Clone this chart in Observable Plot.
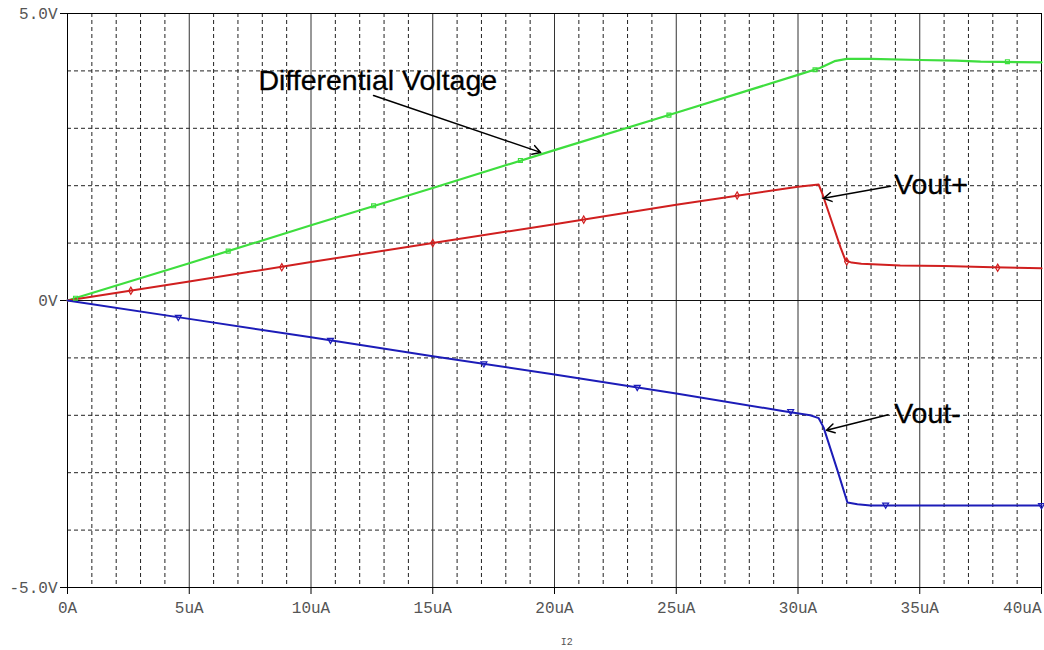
<!DOCTYPE html>
<html>
<head>
<meta charset="utf-8">
<script src="https://cdn.jsdelivr.net/npm/d3@7"></script>
<script src="https://cdn.jsdelivr.net/npm/@observablehq/plot@0.6"></script>
<style>
  html, body { margin: 0; padding: 0; background: #fff; }
  #chart svg { display: block; }
</style>
</head>
<body>
<div id="chart"></div>
<script>
// ---- Data (x in uA, y in V) ----
const diffX = [0, 5, 10, 15, 20, 25, 30, 30.9, 31.5, 32, 33, 35, 36.5, 37.5, 40];
const diffY = [0, 0.65, 1.31, 1.96, 2.62, 3.27, 3.93, 4.05, 4.17, 4.21, 4.21, 4.19, 4.18, 4.16, 4.15];

const voutPX = [0, 5, 10, 15, 20, 25, 30, 30.85, 31.0, 31.75, 31.95, 32.2, 32.6, 34.2, 36, 38, 40];
const voutPY = [0, 0.33, 0.67, 1.0, 1.33, 1.67, 1.98, 2.02, 1.86, 0.92, 0.7, 0.66, 0.64, 0.61, 0.6, 0.58, 0.56];

const voutMX = [0, 5, 10, 15, 20, 25, 29.3, 30.5, 30.85, 31.05, 31.62, 32.03, 32.44, 32.98, 36, 40];
const voutMY = [0, -0.32, -0.64, -0.97, -1.29, -1.62, -1.92, -2.0, -2.05, -2.21, -2.96, -3.52, -3.55, -3.57, -3.57, -3.57];

// markers along the traces
const diffMarkX = [0.33, 6.6, 12.57, 18.6, 24.7, 30.7, 38.6];
const diffMarkY = [0.04, 0.86, 1.65, 2.44, 3.23, 4.02, 4.16];
const voutPMarkX = [2.6, 8.8, 15.0, 21.2, 27.5, 32.0, 38.2];
const voutPMarkY = [0.17, 0.58, 1.0, 1.41, 1.83, 0.68, 0.57];
const voutMMarkX = [4.55, 10.8, 17.1, 23.4, 29.7, 33.6, 40];
const voutMMarkY = [-0.29, -0.69, -1.1, -1.51, -1.93, -3.56, -3.57];

// axis ticks
const xTicks = [0, 5, 10, 15, 20, 25, 30, 35, 40];
const xTickLabels = ["0A", "5uA", "10uA", "15uA", "20uA", "25uA", "30uA", "35uA", "40uA"];
const yTicks = [-5, 0, 5];
const yTickLabels = ["-5.0V", "0V", "5.0V"];
const xMinorGrid = d3.range(1, 40).filter(d => d % 5 !== 0);
const yMinorGrid = [-4, -3, -2, -1, 1, 2, 3, 4];
const xMajorGrid = [5, 10, 15, 20, 25, 30, 35];

// annotations
const labels = [
  {text: "Differential Voltage", x: 7.84, y: 3.83},
  {text: "Vout+", x: 33.95, y: 2.02},
  {text: "Vout-", x: 33.95, y: -1.97}
];
const arrows = [
  {x1: 12.57, y1: 3.57, x2: 19.43, y2: 2.58},
  {x1: 33.8, y1: 1.99, x2: 31.05, y2: 1.78},
  {x1: 33.7, y1: -1.99, x2: 31.17, y2: -2.26}
];

const toRows = (xs, ys) => xs.map((x, i) => ({x, y: ys[i]}));
const diff = toRows(diffX, diffY);
const voutP = toRows(voutPX, voutPY);
const voutM = toRows(voutMX, voutMY);
const xLab = xTicks.map((x, i) => ({x, text: xTickLabels[i]}));

const GREEN = "#3ede3e", RED = "#d01f1f", BLUE = "#1c1cb8";
const mono = "'Liberation Mono', 'DejaVu Sans Mono', monospace";
const sans = "'Liberation Sans', Arial, sans-serif";

const chart = Plot.plot({
  width: 1044,
  height: 650,
  marginLeft: 67,
  marginRight: 3,
  marginTop: 13,
  marginBottom: 63,
  x: {domain: [0, 40], axis: null},
  y: {domain: [-5, 5], axis: null},
  style: {background: "#fff"},
  marks: [
    // grid
    Plot.ruleX(xMinorGrid, {x: d => d, stroke: "#222", strokeDasharray: "4,3", strokeWidth: 1}),
    Plot.ruleY(yMinorGrid, {y: d => d, stroke: "#222", strokeDasharray: "4,3", strokeWidth: 1}),
    Plot.ruleX(xMajorGrid, {x: d => d, stroke: "#333", strokeWidth: 1}),
    Plot.ruleY([0], {stroke: "#111", strokeWidth: 1}),
    Plot.frame({stroke: "#000", strokeWidth: 1}),
    // axes
    Plot.axisX(xTicks, {
      anchor: "bottom", tickSize: 7, label: null, tickFormat: () => "", stroke: "#000"
    }),
    Plot.text(xLab.filter(d => d.x < 40), {
      x: "x", y: -5, dy: 20, text: "text", textAnchor: "middle",
      fontFamily: mono, fontSize: 16, fill: "#555"
    }),
    Plot.text(xLab.filter(d => d.x === 40), {
      x: "x", y: -5, dy: 20, text: "text", textAnchor: "end",
      fontFamily: mono, fontSize: 16, fill: "#555"
    }),
    Plot.axisY(yTicks, {
      anchor: "left", tickSize: 7, tickPadding: 3, label: null,
      tickFormat: (d) => yTickLabels[yTicks.indexOf(d)],
      fontFamily: mono, fontSize: 16, fill: "#555", stroke: "#000"
    }),
    Plot.text(["I2"], {x: 20.5, y: -5, dy: 54, text: d => d, fontFamily: mono, fontSize: 10, fill: "#555"}),
    // series
    Plot.line(diff, {x: "x", y: "y", stroke: GREEN, strokeWidth: 2.2}),
    Plot.line(voutP, {x: "x", y: "y", stroke: RED, strokeWidth: 2}),
    Plot.line(voutM, {x: "x", y: "y", stroke: BLUE, strokeWidth: 2}),
    Plot.dot(toRows(diffMarkX, diffMarkY), {x: "x", y: "y", symbol: "square", r: 2.2, stroke: GREEN, strokeWidth: 1.2, fill: "none"}),
    Plot.dot(toRows(voutPMarkX, voutPMarkY), {x: "x", y: "y", symbol: "diamond", r: 2.2, stroke: RED, strokeWidth: 1.2, fill: "none"}),
    Plot.dot(toRows(voutMMarkX, voutMMarkY), {x: "x", y: "y", symbol: "triangle", r: 2.2, stroke: BLUE, strokeWidth: 1.2, fill: "none", rotate: 180}),
    // annotations
    Plot.arrow(arrows, {x1: "x1", y1: "y1", x2: "x2", y2: "y2", stroke: "#000", strokeWidth: 1.5, headLength: 9}),
    Plot.text(labels, {x: "x", y: "y", text: "text", textAnchor: "start", fontFamily: sans, fontSize: 28.5, fill: "#000", stroke: "#000", strokeWidth: 0.3})
  ]
});
document.getElementById("chart").appendChild(chart);
</script>
</body>
</html>
